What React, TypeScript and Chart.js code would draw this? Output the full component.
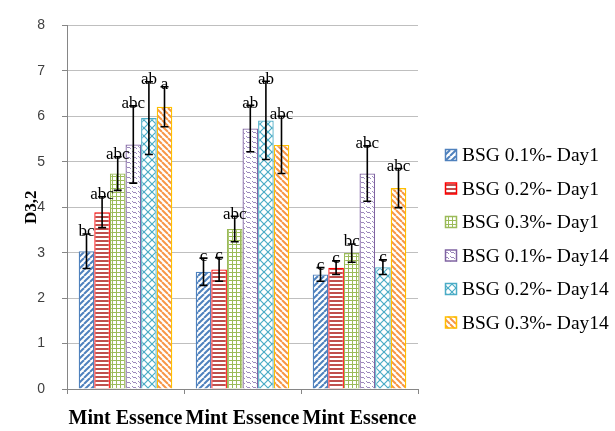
import React, { useEffect, useRef } from "react";
import { Chart, registerables } from "chart.js";

Chart.register(...registerables);

const categories = ["Mint Essence", "Mint Essence", "Mint Essence"];
const seriesNames = [
  "BSG 0.1%- Day1",
  "BSG 0.2%- Day1",
  "BSG 0.3%- Day1",
  "BSG 0.1%- Day14",
  "BSG 0.2%- Day14",
  "BSG 0.3%- Day14",
];
const s1Values = [3.03, 2.58, 2.52];
const s2Values = [3.89, 2.63, 2.67];
const s3Values = [4.74, 3.52, 2.99];
const s4Values = [5.38, 5.73, 4.74];
const s5Values = [5.96, 5.91, 2.68];
const s6Values = [6.21, 5.37, 4.42];
const s1Err = [0.38, 0.3, 0.15];
const s2Err = [0.34, 0.26, 0.15];
const s3Err = [0.37, 0.28, 0.2];
const s4Err = [0.85, 0.51, 0.61];
const s5Err = [0.8, 0.86, 0.16];
const s6Err = [0.44, 0.63, 0.43];
const s1Letters = ["bc", "c", "c"];
const s2Letters = ["abc", "c", "c"];
const s3Letters = ["abc", "abc", "bc"];
const s4Letters = ["abc", "ab", "abc"];
const s5Letters = ["ab", "ab", "c"];
const s6Letters = ["a", "abc", "abc"];
const yTicks = [0, 1, 2, 3, 4, 5, 6, 7, 8];

const allValues = [s1Values, s2Values, s3Values, s4Values, s5Values, s6Values];
const allErr = [s1Err, s2Err, s3Err, s4Err, s5Err, s6Err];
const allLetters = [s1Letters, s2Letters, s3Letters, s4Letters, s5Letters, s6Letters];

const borderColors = ["#4F81BD", "#FF0000", "#9BBB59", "#8064A2", "#4BACC6", "#FFC000"];

function makePattern(kind: number): CanvasPattern | string {
  const c = document.createElement("canvas");
  const ctx = c.getContext("2d")!;
  let size = 6;
  if (kind === 0) {
    size = 6;
    c.width = size; c.height = size;
    ctx.fillStyle = "#fff"; ctx.fillRect(0, 0, size, size);
    ctx.strokeStyle = "#4F81BD"; ctx.lineWidth = 2;
    for (const o of [-size, 0, size]) {
      ctx.beginPath(); ctx.moveTo(o, size); ctx.lineTo(o + size, 0); ctx.stroke();
    }
  } else if (kind === 1) {
    c.width = 4; c.height = 4;
    ctx.fillStyle = "#fff"; ctx.fillRect(0, 0, 4, 4);
    ctx.fillStyle = "#C0504D"; ctx.fillRect(0, 0, 4, 2);
  } else if (kind === 2) {
    c.width = 4; c.height = 4;
    ctx.fillStyle = "#fff"; ctx.fillRect(0, 0, 4, 4);
    ctx.fillStyle = "#9BBB59"; ctx.fillRect(0, 0, 4, 1); ctx.fillRect(0, 0, 1, 4);
  } else if (kind === 3) {
    c.width = 6; c.height = 5;
    ctx.fillStyle = "#fff"; ctx.fillRect(0, 0, 6, 5);
    ctx.strokeStyle = "#9C89BD"; ctx.lineWidth = 1;
    ctx.beginPath(); ctx.moveTo(0, 1); ctx.lineTo(2, 3); ctx.lineTo(3, 2); ctx.lineTo(5, 4); ctx.stroke();
  } else if (kind === 4) {
    size = 8;
    c.width = size; c.height = size;
    ctx.fillStyle = "#fff"; ctx.fillRect(0, 0, size, size);
    ctx.strokeStyle = "#4BACC6"; ctx.lineWidth = 1.2;
    for (const o of [-size, 0, size]) {
      ctx.beginPath(); ctx.moveTo(o, size); ctx.lineTo(o + size, 0); ctx.stroke();
      ctx.beginPath(); ctx.moveTo(o, 0); ctx.lineTo(o + size, size); ctx.stroke();
    }
  } else {
    size = 6;
    c.width = size; c.height = size;
    ctx.fillStyle = "#fff"; ctx.fillRect(0, 0, size, size);
    ctx.strokeStyle = "#F79646"; ctx.lineWidth = 2;
    for (const o of [-size, 0, size]) {
      ctx.beginPath(); ctx.moveTo(o, 0); ctx.lineTo(o + size, size); ctx.stroke();
    }
  }
  const p = ctx.createPattern(c, "repeat");
  return p || "#ccc";
}

const errorBarPlugin = {
  id: "errorBars",
  afterDatasetsDraw(chart: any) {
    const ctx = chart.ctx;
    const y = chart.scales.y;
    ctx.save();
    ctx.strokeStyle = "#000";
    ctx.lineWidth = 1.6;
    chart.data.datasets.forEach((ds: any, i: number) => {
      const meta = chart.getDatasetMeta(i);
      meta.data.forEach((bar: any, j: number) => {
        const v = allValues[i][j];
        const e = allErr[i][j];
        const yt = y.getPixelForValue(v + e);
        const yb = y.getPixelForValue(v - e);
        const x = bar.x;
        ctx.beginPath();
        ctx.moveTo(x, yt); ctx.lineTo(x, yb);
        ctx.moveTo(x - 4, yt); ctx.lineTo(x + 4, yt);
        ctx.moveTo(x - 4, yb); ctx.lineTo(x + 4, yb);
        ctx.stroke();
      });
    });
    ctx.restore();
  },
};

const lettersPlugin = {
  id: "letters",
  afterDatasetsDraw(chart: any) {
    const ctx = chart.ctx;
    const y = chart.scales.y;
    ctx.save();
    ctx.fillStyle = "#000";
    ctx.font = "17px 'Liberation Serif'";
    ctx.textAlign = "center";
    ctx.textBaseline = "middle";
    chart.data.datasets.forEach((ds: any, i: number) => {
      const meta = chart.getDatasetMeta(i);
      meta.data.forEach((bar: any, j: number) => {
        const v = allValues[i][j];
        const e = allErr[i][j];
        const yt = y.getPixelForValue(v + e);
        ctx.fillText(allLetters[i][j], bar.x, yt - 2);
      });
    });
    ctx.restore();
  },
};

const legendPlugin = {
  id: "customLegend",
  afterDraw(chart: any) {
    const ctx = chart.ctx;
    ctx.save();
    const x0 = 445;
    const y0 = 155;
    const gap = 33.5;
    chart.data.datasets.forEach((ds: any, i: number) => {
      const cy = y0 + i * gap;
      ctx.fillStyle = ds.backgroundColor;
      ctx.fillRect(x0, cy - 6, 12, 12);
      ctx.strokeStyle = ds.borderColor;
      ctx.lineWidth = 1.5;
      ctx.strokeRect(x0 + 0.5, cy - 5.5, 11, 11);
      ctx.fillStyle = "#000";
      ctx.font = "19.5px 'Liberation Serif'";
      ctx.textAlign = "left";
      ctx.textBaseline = "middle";
      ctx.fillText(ds.label, 462, cy + 1);
    });
    ctx.restore();
  },
};

export default function App() {
  const ref = useRef<HTMLCanvasElement>(null);
  useEffect(() => {
    if (!ref.current) return;
    const datasets = seriesNames.map((name, i) => ({
      label: name,
      data: allValues[i],
      backgroundColor: makePattern(i) as any,
      borderColor: borderColors[i],
      borderWidth: 1.3,
      barPercentage: 1,
      categoryPercentage: 0.8,
    }));
    const chart = new Chart(ref.current, {
      type: "bar",
      data: { labels: categories, datasets },
      options: {
        animation: false,
        responsive: false,
        layout: { padding: { top: 23, right: 197, left: 0, bottom: 0 } },
        plugins: { legend: { display: false }, tooltip: { enabled: false } },
        scales: {
          x: {
            grid: {
              offset: true,
              drawOnChartArea: false,
              drawTicks: true,
              tickLength: 5,
              color: "#868686",
            },
            border: { color: "#868686" },
            ticks: {
              font: { family: "'Liberation Serif'", size: 20, weight: "bold" },
              color: "#000",
              padding: 13,
              maxRotation: 0,
              autoSkip: false,
            },
            afterFit: (s: any) => { s.height = 42; },
          },
          y: {
            min: 0,
            max: 8,
            afterBuildTicks: (s: any) => { s.ticks = yTicks.map((v) => ({ value: v })); },
            grid: { color: "#BFBFBF", tickLength: 5, tickColor: "#868686" },
            border: { color: "#868686" },
            ticks: {
              font: { family: "'Liberation Sans'", size: 14 },
              color: "#404040",
              padding: 17,
            },
            title: {
              display: true,
              text: "D3,2",
              font: { family: "'Liberation Serif'", size: 17, weight: "bold" },
              color: "#000",
              padding: { top: 21, bottom: 0 },
            },
            afterFit: (s: any) => { s.width = 67; },
          },
        },
      },
      plugins: [errorBarPlugin, lettersPlugin, legendPlugin],
    });
    return () => chart.destroy();
  }, []);
  return (
    <div style={{ position: "absolute", left: 0, top: 0, width: 615, height: 431, background: "#fff" }}>
      <canvas ref={ref} width={615} height={431} />
    </div>
  );
}
